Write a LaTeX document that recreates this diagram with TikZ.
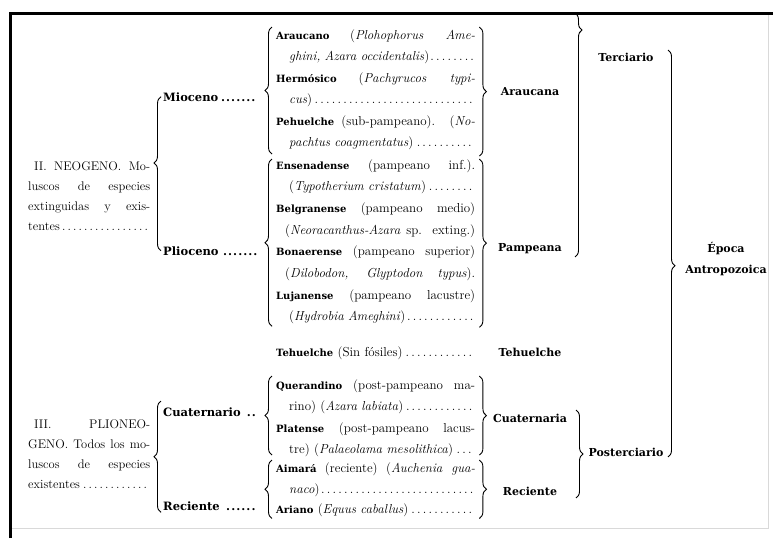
\documentclass[tikz,border=0pt]{standalone}
\usepackage{fontspec}
\newfontfamily\slab{DejaVu Serif}
\usetikzlibrary{decorations.pathreplacing,calc}
\newcommand{\nm}[1]{{\fontsize{10}{12}\slab\bfseries #1}} % nombre del piso
\newcommand{\fl}[1]{\makebox[\linewidth][s]{\spaceskip=0pt\xspaceskip=0pt #1}} % linea justificada
\newcommand{\ind}{\hspace*{13pt}}
\begin{document}
\begin{tikzpicture}[x=1pt, y=-1pt,
        entry/.style={anchor=base west, text width=199pt, inner sep=0pt, align=left, font=\fontsize{13}{21.6}\selectfont}, % pisos
        group/.style={anchor=base west, text width=122pt, inner sep=0pt, align=left, font=\fontsize{12.5}{20.3}\selectfont}, % grupos
        era/.style={anchor=base west, text width=95pt, inner sep=0pt, align=left, font=\fontsize{11.5}{15}\slab\bfseries},
        lab/.style={anchor=base, inner sep=0pt, font=\fontsize{11}{15}\slab\bfseries}, % formaciones
        bkt/.style={decorate, decoration={brace, amplitude=7pt, #1}, line width=0.9pt},
        bkt/.default={},
    ]
    \useasboundingbox (0,0) rectangle (773,538);

    % marco
    \draw[black!15, line width=1pt] (12,528) -- (768,528) -- (768,13);
    \draw[line width=3pt] (10,538) -- (10,13) -- (773,13);

    % II. Neogeno
    \node[group] (neo) at (28,170) {\fl{\hspace*{6pt}II. NEOGENO. Mo-}\\ \fl{luscos de especies}\\ \fl{extinguidas y exis-}\\ tentes\dotfill};
    \node[era] (mio) at (163,101) {Mioceno\dotfill};
    \node[era] (plio) at (163,255) {Plioceno\ \dotfill};

    \node[entry] (arau) at (276,39) {\fl{\nm{Araucano} (\textit{Plohophorus Ame-}}\\ \ind\textit{ghini, Azara occidentalis})\dotfill};
    \node[entry] (herm) at (276,82) {\fl{\nm{Hermósico} (\textit{Pachyrucos typi-}}\\ \ind\textit{cus})\dotfill};
    \node[entry] (pehu) at (276,125) {\fl{\nm{Pehuelche} (sub-pampeano). (\textit{No-}}\\ \ind\textit{pachtus coagmentatus})\dotfill};
    \node[entry] (ense) at (276,169) {\fl{\nm{Ensenadense} (pampeano inf.).}\\ \ind(\textit{Typotherium cristatum})\dotfill};
    \node[entry] (belg) at (276,212.4) {\fl{\nm{Belgranense} (pampeano medio)}\\ \fl{\hspace*{9pt}(\textit{Neoracanthus-Azara} sp. exting.)}};
    \node[entry] (bona) at (276,255.8) {\fl{\nm{Bonaerense} (pampeano superior)}\\ \fl{\hspace*{9pt}(\textit{Dilobodon, Glyptodon typus}).}};
    \node[entry] (luja) at (276,299.2) {\fl{\nm{Lujanense} (pampeano lacustre)}\\ \ind(\textit{Hydrobia Ameghini})\dotfill};
    \node[entry] (tehu) at (276,356) {\nm{Tehuelche} (Sin fósiles)\dotfill};

    % III. Plioneogeno
    \node[group] (plion) at (28,428) {\fl{\hspace*{6pt}III. PLIONEO-}\\ \fl{GENO. Todos los mo-}\\ \fl{luscos de especies}\\ existentes\dotfill};
    \node[era] (cuate) at (163,416) {Cuaternario\ \dotfill};
    \node[era] (recie) at (163,510) {Reciente\ \dotfill};

    \node[entry] (quer) at (276,389) {\fl{\nm{Querandino} (post-pampeano ma-}\\ \ind rino) (\textit{Azara labiata})\dotfill};
    \node[entry] (plat) at (276,432) {\fl{\nm{Platense} (post-pampeano lacus-}\\ \ind tre) (\textit{Palaeolama mesolithica})\dotfill};
    \node[entry] (aima) at (276,472) {\fl{\nm{Aimará} (reciente) (\textit{Auchenia gua-}}\\ \ind\textit{naco})\dotfill};
    \node[entry] (aria) at (276,513) {\nm{Ariano} (\textit{Equus caballus})\dotfill};

    % formaciones y epocas
    \node[lab] (arauc) at (530,95) {Araucana};
    \node[lab] (pamp) at (530,251) {Pampeana};
    \node[lab] (tehuel) at (530,356) {Tehuelche};
    \node[lab] (cuat) at (530,422) {Cuaternaria};
    \node[lab] (reci) at (530,495) {Reciente};
    \node[lab] (terc) at (626,61) {Terciario};
    \node[lab] (post) at (626,456) {Posterciario};
    \node[lab] (epoca) at (726,252) {Época};
    \node[lab] (antro) at (726,273) {Antropozoica};

    % llaves
    \draw[bkt={aspect=0.57}] ($(plio.west)+(-2,0)$) -- ($(mio.west)+(-2,0)$);
    \draw[bkt] ($(recie.south west)+(-2,2)$) -- ($(cuate.north west)+(-2,-6)$);
    \draw[bkt] ($(pehu.south west)+(-4,4)$) -- ($(arau.north west)+(-4,-2)$);
    \draw[bkt] ($(arau.north east)+(4,-2)$) -- ($(pehu.south east)+(4,6)$);
    \draw[bkt] ($(luja.south west)+(-4,2)$) -- ($(ense.north west)+(-4,0)$);
    \draw[bkt] ($(ense.north east)+(4,0)$) -- ($(luja.south east)+(4,3)$);
    \draw[bkt] ($(plat.south west)+(-4,-2)$) -- ($(quer.north west)+(-4,-3)$);
    \draw[bkt] ($(quer.north east)+(4,-3)$) -- ($(plat.south east)+(4,-2)$);
    \draw[bkt] ($(aria.south west)+(-4,2)$) -- ($(aima.north west)+(-4,-2)$);
    \draw[bkt] ($(aima.north east)+(4,-2)$) -- ($(aria.south east)+(4,2)$);
    \coordinate (tt) at (575,13);
    \coordinate (tb) at (575,257);
    \draw[bkt={aspect=0.07}] (tt) -- (tb);
    \coordinate (pt) at (576,410);
    \coordinate (pb) at (576,498);
    \draw[bkt] (pt) -- (pb);
    \coordinate (et) at (668,50);
    \coordinate (eb) at (668,457);
    \draw[bkt={aspect=0.53}] (et) -- (eb);
\end{tikzpicture}
\end{document}
